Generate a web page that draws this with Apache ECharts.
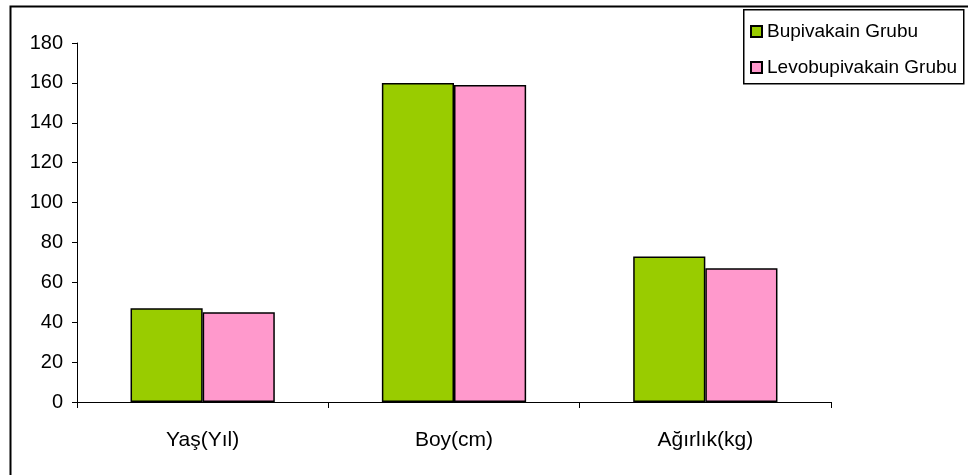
<!DOCTYPE html>
<html>
<head>
<meta charset="utf-8">
<script src="https://cdn.jsdelivr.net/npm/echarts@6/dist/echarts.min.js"></script>
<style>
  html, body { margin: 0; padding: 0; background: #fff; }
  #chart { width: 968px; height: 475px; }
</style>
</head>
<body>
<div id="chart"></div>
<script>
// Demographic comparison of the two anaesthetic groups
const categories = ['Yaş(Yıl)', 'Boy(cm)', 'Ağırlık(kg)'];
const bupivakain = [47, 160, 73];
const levobupivakain = [45, 159, 67];
const seriesNames = ['Bupivakain Grubu', 'Levobupivakain Grubu'];
const yTicks = [0, 20, 40, 60, 80, 100, 120, 140, 160, 180];

const FONT = '"Liberation Sans", Arial, sans-serif';

const chart = echarts.init(document.getElementById('chart'), null, { renderer: 'canvas' });

chart.setOption({
  animation: false,
  backgroundColor: '#fff',
  textStyle: { fontFamily: FONT },
  grid: { left: 77, right: 137, top: 43, bottom: 73, containLabel: false },
  graphic: [
    // outer frame (only its left and top edges fall inside the canvas)
    { type: 'rect', left: 8, top: 4, z: 0,
      shape: { width: 2000, height: 1000 },
      style: { fill: 'none', stroke: '#000', lineWidth: 2 } },
    // legend frame
    { type: 'rect', left: 743, top: 9, z: 1,
      shape: { width: 220, height: 74 },
      style: { fill: '#fff', stroke: '#000', lineWidth: 1.5 } }
  ],
  legend: {
    orient: 'vertical',
    left: 745,
    top: 17,
    z: 5,
    itemWidth: 11,
    itemHeight: 11,
    itemGap: 17,
    icon: 'rect',
    data: seriesNames,
    textStyle: { fontFamily: FONT, fontSize: 19, color: '#000' }
  },
  xAxis: {
    type: 'category',
    data: categories,
    axisLine: { lineStyle: { color: '#000', width: 1 } },
    axisTick: { show: true, alignWithLabel: false, length: 6, lineStyle: { color: '#000' } },
    axisLabel: { color: '#000', fontSize: 21, fontFamily: FONT, margin: 28 }
  },
  yAxis: {
    type: 'value',
    min: yTicks[0],
    max: yTicks[yTicks.length - 1],
    interval: yTicks[1] - yTicks[0],
    axisLine: { show: true, lineStyle: { color: '#000', width: 1 } },
    axisTick: { show: true, length: 5, lineStyle: { color: '#000' } },
    axisLabel: { color: '#000', fontSize: 20, fontFamily: FONT, margin: 14 },
    splitLine: { show: false }
  },
  series: [
    {
      name: seriesNames[0],
      type: 'bar',
      data: bupivakain,
      barGap: '0%',
      barCategoryGap: '42.6%',
      itemStyle: { color: '#99CC00', borderColor: '#000', borderWidth: 1.5 }
    },
    {
      name: seriesNames[1],
      type: 'bar',
      data: levobupivakain,
      barGap: '0%',
      barCategoryGap: '42.6%',
      itemStyle: { color: '#FF99CC', borderColor: '#000', borderWidth: 1.5 }
    }
  ]
});
</script>
</body>
</html>
